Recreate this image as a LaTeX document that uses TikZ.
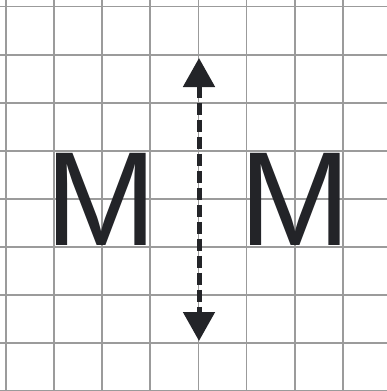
\documentclass[tikz,border=0pt]{standalone}
\usepackage{fontspec}
\setmainfont{Liberation Sans}
\usetikzlibrary{arrows.meta}
\definecolor{gridgray}{RGB}{155,155,155}
\definecolor{ink}{RGB}{35,36,40}
\tikzset{
  gridline/.style={draw=gridgray, line width=1.8pt},
  bigletter/.style={inner sep=0pt, text=ink, font=\fontsize{134}{134}\selectfont, anchor=center},
  mirrorarrow/.style={draw=ink, line width=5pt, dash pattern=on 12pt off 5pt,
    {Triangle[width=31pt,length=29pt]}-{Triangle[width=31pt,length=29pt]}}
}
\begin{document}
\begin{tikzpicture}[x=1pt,y=-1pt]
\fill[white] (0,0) rectangle (387,391);
\useasboundingbox (0,0) rectangle (387,391);
\begin{scope}
\clip (0,0) rectangle (387,391);
\foreach \k in {0,...,8} {
  \draw[gridline] ({6+48.1*\k},0) -- ({6+48.1*\k},391);
  \draw[gridline] (0,{6.5+48.1*\k}) -- (387,{6.5+48.1*\k});
}
\end{scope}
\node[bigletter] (left) at (101.5,199) {M};
\node[bigletter] (right) at (295.5,199) {M};
\coordinate (top) at (199,58);
\coordinate (bot) at (199,341);
\draw[mirrorarrow] (top) -- (bot);
\end{tikzpicture}
\end{document}
